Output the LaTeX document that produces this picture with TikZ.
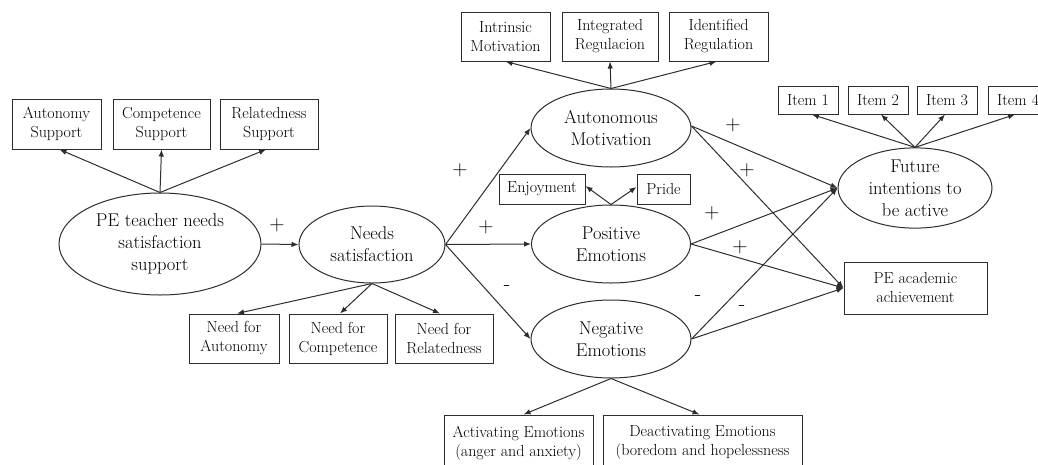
\documentclass[tikz,border=0pt]{standalone}
\usetikzlibrary{shapes.geometric,arrows.meta}
\definecolor{lc}{RGB}{45,45,45}
\definecolor{tc}{RGB}{0,0,0}
\begin{document}
\begin{tikzpicture}[x=1pt,y=-1pt,
 box/.style={draw=lc, line width=1pt, inner sep=0pt, align=center, font=\fontsize{16}{19}\selectfont, text=tc},
 ell/.style={ellipse, draw=lc, line width=1pt, inner sep=0pt, align=center, font=\fontsize{18.5}{22}\selectfont, text=tc},
 arr/.style={draw=lc, line width=1pt, -{Latex[length=7pt,width=5.5pt]}},
 sign/.style={font=\fontsize{21}{21}\selectfont, text=tc, inner sep=0pt}]
\useasboundingbox (0,0) rectangle (1038,464);
\clip (0,0) rectangle (1038,464);
% left part
\node[box, minimum width=89, minimum height=50] (autS) at (56.5,124) {Autonomy\\Support};
\node[box, minimum width=97, minimum height=50] (compS) at (161.5,124) {Competence\\Support};
\node[box, minimum width=98, minimum height=50] (relS) at (269,124) {Relatedness\\Support};
\node[ell, minimum width=202, minimum height=102] (pet) at (160,244) {PE teacher needs\\satisfaction\\support};
\node[ell, minimum width=146, minimum height=77] (ns) at (372,244.5) {Needs\\satisfaction};
\node[box, minimum width=90, minimum height=49] (nA) at (234,338.5) {Need for\\Autonomy};
\node[box, minimum width=98, minimum height=49] (nC) at (338,338.5) {Need for\\Competence};
\node[box, minimum width=98, minimum height=49] (nR) at (444,338.5) {Need for\\Relatedness};
% middle
\node[box, minimum width=89, minimum height=49] (intr) at (505.5,36.5) {Intrinsic\\Motivation};
\node[box, minimum width=96, minimum height=49] (integ) at (610,36.5) {Integrated\\Regulacion};
\node[box, minimum width=99, minimum height=49] (ident) at (718.5,36.5) {Identified\\Regulation};
\node[ell, minimum width=160, minimum height=78] (am) at (611,128) {Autonomous\\Motivation};
\node[box, minimum width=86, minimum height=30] (enj) at (542,189) {Enjoyment};
\node[box, minimum width=53, minimum height=30] (pride) at (663.5,189) {Pride};
\node[ell, minimum width=159, minimum height=78] (pos) at (611,244) {Positive\\Emotions};
\node[ell, minimum width=160, minimum height=78] (neg) at (611,339) {Negative\\Emotions};
\node[box, minimum width=149, minimum height=56] (act) at (518.5,443) {Activating Emotions\\(anger and anxiety)};
\node[box, minimum width=199, minimum height=56] (deact) at (702.5,443) {Deactivating Emotions\\(boredom and hopelessness};
% right
\node[box, minimum width=60, minimum height=28] (it1) at (808,100) {Item 1};
\node[box, minimum width=60, minimum height=28] (it2) at (878,100) {Item 2};
\node[box, minimum width=60, minimum height=28] (it3) at (947,100) {Item 3};
\node[box, minimum width=60, minimum height=28] (it4) at (1018,100) {Item 4};
\node[ell, minimum width=154, minimum height=78] (fut) at (915,188) {Future\\intentions to\\be active};
\node[box, minimum width=143, minimum height=52] (pea) at (915.5,288) {PE academic\\achievement};
% connectors
\draw[arr] (pet.north) -- ([xshift=3pt]autS.south);
\draw[arr] (pet.north) -- (compS.south);
\draw[arr] (pet.north) -- ([xshift=-3pt]relS.south);
\draw[arr] (pet.east) -- (ns.west);
\draw[arr] (ns.south) -- ([xshift=3pt]nA.north);
\draw[arr] (ns.south) -- ([xshift=2pt]nC.north);
\draw[arr] (ns.south) -- ([xshift=-4pt]nR.north);
\draw[arr] (ns.east) -- (am.west);
\draw[arr] (ns.east) -- (pos.west);
\draw[arr] (ns.east) -- (neg.west);
\draw[arr] (am.north) -- (intr.south);
\draw[arr] (am.north) -- (integ.south);
\draw[arr] (am.north) -- ([xshift=-2pt]ident.south);
\draw[arr] (pos.north) -- ([yshift=3pt]enj.east);
\draw[arr] (pos.north) -- ([yshift=2pt]pride.west);
\draw[arr] (neg.south) -- ([xshift=5pt]act.north);
\draw[arr] (neg.south) -- ([xshift=-3pt]deact.north);
\draw[arr] (fut.north) -- ([xshift=4pt]it1.south);
\draw[arr] (fut.north) -- ([xshift=3pt]it2.south);
\draw[arr] (fut.north) -- ([xshift=-2pt]it3.south);
\draw[arr] (fut.north) -- ([xshift=-3pt]it4.south);
\draw[arr] ([yshift=2pt]am.east) -- (fut.west);
\draw[arr] ([yshift=2pt]am.east) -- (pea.west);
\draw[arr] (pos.east) -- (fut.west);
\draw[arr] (pos.east) -- (pea.west);
\draw[arr] (neg.east) -- (fut.west);
\draw[arr] (neg.east) -- (pea.west);
% signs
\node[sign] (s1) at (277,225) {+};
\node[sign] (s2) at (460,170) {+};
\node[sign] (s3) at (486,227) {+};
\node[sign] (s4) at (507,288) {-};
\node[sign] (s5) at (733,125) {+};
\node[sign] (s6) at (747,170) {+};
\node[sign] (s7) at (712,213) {+};
\node[sign] (s8) at (740,247) {+};
\node[sign] (s9) at (698,298) {-};
\node[sign] (s10) at (742,308) {-};
\end{tikzpicture}
\end{document}
